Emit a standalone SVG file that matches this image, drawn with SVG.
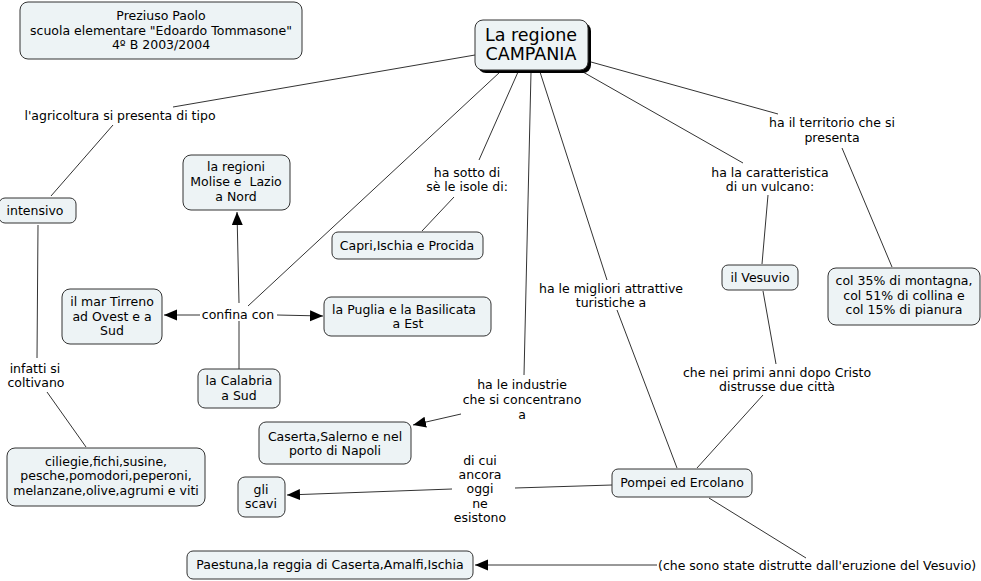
<svg xmlns="http://www.w3.org/2000/svg" width="981" height="581" viewBox="0 0 981 581">
<style>
  .bg { fill: #ffffff; }
  .node rect.box { fill: #edf3f5; stroke: #333333; stroke-width: 1; }
  .node rect.shadow { fill: #000000; }
  text { font-family: "DejaVu Sans", Verdana, sans-serif; font-size: 12.5px; fill: #000000; text-anchor: middle; }
  .main text { font-size: 17.5px; }
  .conn line { stroke: #333333; stroke-width: 1; fill: none; }
  .conn line.arrow { marker-end: url(#arrow); }
</style>
<defs>
  <marker id="arrow" markerUnits="userSpaceOnUse" markerWidth="14" markerHeight="12" refX="13" refY="5.5" orient="auto">
    <path d="M0,0 L13,5.5 L0,11 Z" fill="#000000"/>
  </marker>
</defs>
<rect class="bg" x="0" y="0" width="981" height="581"/>

<g id="connectors" class="conn">
  <line x1="475" y1="55" x2="173" y2="107"/>
  <line x1="113" y1="125" x2="51" y2="196"/>
  <line x1="38" y1="225" x2="37" y2="358"/>
  <line x1="47" y1="392" x2="86" y2="447"/>
  <line x1="500" y1="72" x2="248" y2="306"/>
  <line class="arrow" x1="239" y1="303" x2="237" y2="212"/>
  <line class="arrow" x1="200" y1="315" x2="164" y2="315"/>
  <line class="arrow" x1="277" y1="315" x2="323" y2="316"/>
  <line x1="239" y1="321" x2="239" y2="369"/>
  <line x1="518" y1="72" x2="479" y2="160"/>
  <line x1="454" y1="197" x2="422" y2="231"/>
  <line x1="531" y1="72" x2="524" y2="375"/>
  <line class="arrow" x1="461" y1="414" x2="413" y2="425"/>
  <line x1="540" y1="72" x2="607" y2="280"/>
  <line x1="617" y1="310" x2="677" y2="468"/>
  <line x1="612" y1="485" x2="515" y2="488"/>
  <line class="arrow" x1="452" y1="489" x2="287" y2="495"/>
  <line x1="709" y1="498" x2="806" y2="558"/>
  <line class="arrow" x1="657" y1="565" x2="475" y2="565"/>
  <line x1="583" y1="72" x2="743" y2="163"/>
  <line x1="768" y1="195" x2="762" y2="264"/>
  <line x1="763" y1="291" x2="776" y2="364"/>
  <line x1="763" y1="395" x2="697" y2="468"/>
  <line x1="591" y1="62" x2="778" y2="114"/>
  <line x1="842" y1="148" x2="892" y2="267"/>
</g>

<g id="node-author" class="node">
  <rect class="box" x="20" y="2" width="282" height="57" rx="8"/>
  <text x="161" y="20">Preziuso Paolo</text>
  <text x="161" y="35">scuola elementare "Edoardo Tommasone"</text>
  <text x="161" y="49">4º B 2003/2004</text>
</g>

<g id="node-main" class="node main">
  <rect class="shadow" x="478" y="23" width="113" height="50" rx="8"/>
  <rect class="box" x="475" y="20" width="113" height="50" rx="8"/>
  <text x="531" y="41">La regione</text>
  <text x="531" y="60">CAMPANIA</text>
</g>

<g id="label-agricoltura"><text x="120" y="120">l'agricoltura si presenta di tipo</text></g>

<g id="node-intensivo" class="node">
  <rect class="box" x="-1" y="198" width="77" height="25" rx="6"/>
  <text x="35" y="215">intensivo</text>
</g>

<g id="label-infatti">
  <text x="35" y="373">infatti si</text>
  <text x="36" y="387">coltivano</text>
</g>

<g id="node-ciliegie" class="node">
  <rect class="box" x="7" y="448" width="198" height="58" rx="8"/>
  <text x="106" y="466">ciliegie,fichi,susine,</text>
  <text x="106" y="480">pesche,pomodori,peperoni,</text>
  <text x="106" y="495">melanzane,olive,agrumi e viti</text>
</g>

<g id="node-molise" class="node">
  <rect class="box" x="183" y="155" width="107" height="55" rx="8"/>
  <text x="236" y="171">la regioni</text>
  <text x="236" y="186" xml:space="preserve">Molise e  Lazio</text>
  <text x="236" y="201">a Nord</text>
</g>

<g id="label-confina"><text x="238" y="319">confina con</text></g>

<g id="node-tirreno" class="node">
  <rect class="box" x="62" y="289" width="100" height="55" rx="8"/>
  <text x="112" y="306">il mar Tirreno</text>
  <text x="112" y="321">ad Ovest e a</text>
  <text x="112" y="335">Sud</text>
</g>

<g id="node-puglia" class="node">
  <rect class="box" x="324" y="297" width="167" height="39" rx="7"/>
  <text x="404" y="314">la Puglia e la Basilicata</text>
  <text x="408" y="328">a Est</text>
</g>

<g id="node-calabria" class="node">
  <rect class="box" x="198" y="369" width="82" height="39" rx="7"/>
  <text x="239" y="385">la Calabria</text>
  <text x="239" y="400">a Sud</text>
</g>

<g id="label-sotto">
  <text x="467" y="177">ha sotto di</text>
  <text x="467" y="191">sè le isole di:</text>
</g>

<g id="node-capri" class="node">
  <rect class="box" x="332" y="232" width="151" height="27" rx="6"/>
  <text x="407" y="250">Capri,Ischia e Procida</text>
</g>

<g id="label-industrie">
  <text x="522" y="389">ha le industrie</text>
  <text x="522" y="404">che si concentrano</text>
  <text x="522" y="419">a</text>
</g>

<g id="node-caserta" class="node">
  <rect class="box" x="259" y="422" width="152" height="42" rx="7"/>
  <text x="335" y="441">Caserta,Salerno e nel</text>
  <text x="335" y="455">porto di Napoli</text>
</g>

<g id="label-migliori">
  <text x="611" y="293">ha le migliori attrattive</text>
  <text x="611" y="307">turistiche a</text>
</g>

<g id="node-pompei" class="node">
  <rect class="box" x="612" y="469" width="140" height="28" rx="6"/>
  <text x="682" y="487">Pompei ed Ercolano</text>
</g>

<g id="label-dicui">
  <text x="480" y="465">di cui</text>
  <text x="480" y="479">ancora</text>
  <text x="480" y="493">oggi</text>
  <text x="480" y="508">ne</text>
  <text x="480" y="522">esistono</text>
</g>

<g id="node-scavi" class="node">
  <rect class="box" x="238" y="477" width="47" height="40" rx="7"/>
  <text x="261" y="494">gli</text>
  <text x="261" y="508">scavi</text>
</g>

<g id="label-distrutte"><text x="658" y="570" style="text-anchor:start">(che sono state distrutte dall'eruzione del Vesuvio)</text></g>

<g id="node-paestuna" class="node">
  <rect class="box" x="187" y="551" width="286" height="28" rx="6"/>
  <text x="330" y="569">Paestuna,la reggia di Caserta,Amalfi,Ischia</text>
</g>

<g id="label-vulcano">
  <text x="770" y="177">ha la caratteristica</text>
  <text x="770" y="191">di un vulcano:</text>
</g>

<g id="node-vesuvio" class="node">
  <rect class="box" x="722" y="265" width="76" height="25" rx="6"/>
  <text x="760" y="282">il Vesuvio</text>
</g>

<g id="label-cristo">
  <text x="777" y="377">che nei primi anni dopo Cristo</text>
  <text x="777" y="391">distrusse due città</text>
</g>

<g id="label-territorio">
  <text x="832" y="127">ha il territorio che si</text>
  <text x="832" y="142">presenta</text>
</g>

<g id="node-percentuali" class="node">
  <rect class="box" x="828" y="268" width="152" height="57" rx="8"/>
  <text x="904" y="285">col 35% di montagna,</text>
  <text x="904" y="300">col 51% di collina e</text>
  <text x="904" y="314">col 15% di pianura</text>
</g>
</svg>
